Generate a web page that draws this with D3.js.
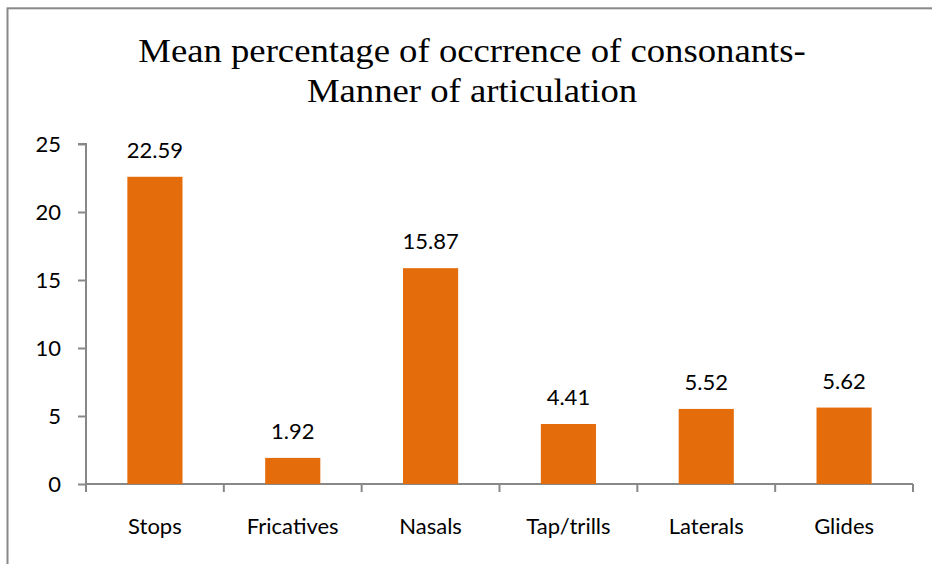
<!DOCTYPE html>
<html>
<head>
<meta charset="utf-8">
<script src="https://cdn.jsdelivr.net/npm/d3@7"></script>
<style>
  body { margin: 0; background: #fff; }
  svg { display: block; }
</style>
</head>
<body>
<script>
const categories = ['Stops', 'Fricatives', 'Nasals', 'Tap/trills', 'Laterals', 'Glides'];
const values = [22.59, 1.92, 15.87, 4.41, 5.52, 5.62];
const yTicks = [0, 5, 10, 15, 20, 25];
const titleLines = ['Mean percentage of occrrence of consonants-', 'Manner of articulation'];

const w = 932;
const h = 564;
const plotLeft = 86, plotRight = 913, plotTop = 144, plotBottom = 484;
const labelFont = 'Lato, "Open Sans", sans-serif';

const svg = d3.select('body').append('svg').attr('width', w).attr('height', h);

// chart border (only top and left sides fall inside the picture)
svg.append('rect')
  .attr('x', 7.5).attr('y', 8.3)
  .attr('width', w + 10).attr('height', h + 10)
  .attr('fill', 'none').attr('stroke', '#888').attr('stroke-width', 2);

// title, a touch wider than the stock serif
svg.append('g')
  .attr('transform', 'translate(472,0) scale(1.08,1)')
  .append('text')
  .attr('font-family', '"Liberation Serif", "Times New Roman", serif')
  .attr('font-size', 34).attr('text-anchor', 'middle').attr('fill', '#000')
  .selectAll('tspan').data(titleLines).enter().append('tspan')
  .attr('x', 0).attr('y', (d, i) => 62 + i * 40)
  .text(d => d);

const x = d3.scaleBand().domain(categories).range([plotLeft, plotRight]).paddingInner(0.6).paddingOuter(0.3);
const xTick = d3.scaleBand().domain(categories).range([plotLeft, plotRight]);
const y = d3.scaleLinear().domain([0, 25]).range([plotBottom, plotTop]);

// y axis
const yAxis = svg.append('g').attr('transform', `translate(${plotLeft},0)`)
  .call(d3.axisLeft(y).tickValues(yTicks).tickSize(8).tickPadding(17));
yAxis.select('.domain').attr('stroke', '#888').attr('stroke-width', 2).attr('d', `M-8,${plotTop}H0V${plotBottom}`);
yAxis.selectAll('.tick line').attr('stroke', '#888').attr('stroke-width', 2);
yAxis.selectAll('.tick text').attr('font-family', labelFont).attr('font-size', 22).attr('fill', '#000');

// x axis
const xg = svg.append('g');
xg.append('line').attr('x1', plotLeft).attr('x2', plotRight).attr('y1', plotBottom).attr('y2', plotBottom)
  .attr('stroke', '#888').attr('stroke-width', 2);
xg.selectAll('line.tk').data(categories.concat(['end'])).enter().append('line')
  .attr('class', 'tk')
  .attr('x1', (d, i) => i < categories.length ? xTick(d) : plotRight)
  .attr('x2', (d, i) => i < categories.length ? xTick(d) : plotRight)
  .attr('y1', plotBottom).attr('y2', plotBottom + 8)
  .attr('stroke', '#888').attr('stroke-width', 2);
xg.selectAll('text').data(categories).enter().append('text')
  .attr('x', d => xTick(d) + xTick.bandwidth() / 2)
  .attr('y', 534)
  .attr('text-anchor', 'middle')
  .attr('font-family', labelFont).attr('font-size', 22).attr('fill', '#000')
  .text(d => d);

// bars
svg.selectAll('rect.bar').data(values).enter().append('rect')
  .attr('class', 'bar')
  .attr('x', (d, i) => x(categories[i]))
  .attr('width', x.bandwidth())
  .attr('y', d => y(d))
  .attr('height', d => y(0) - y(d))
  .attr('fill', '#E46C0A');

// value labels
svg.selectAll('text.val').data(values).enter().append('text')
  .attr('class', 'val')
  .attr('x', (d, i) => x(categories[i]) + x.bandwidth() / 2)
  .attr('y', d => y(d) - 19)
  .attr('text-anchor', 'middle')
  .attr('font-family', labelFont).attr('font-size', 22).attr('fill', '#000')
  .text(d => d.toFixed(2));
</script>
</body>
</html>
